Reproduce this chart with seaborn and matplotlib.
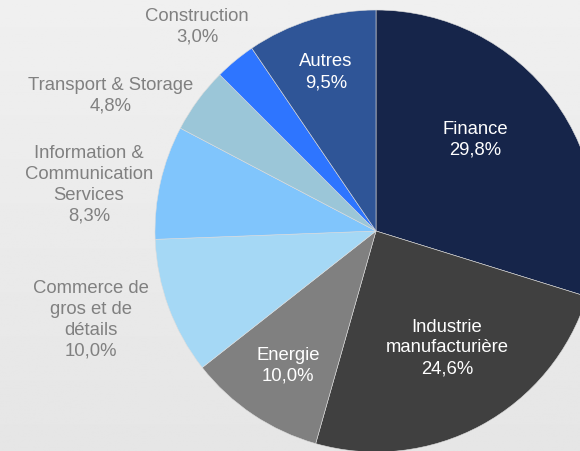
import numpy as np
import matplotlib
matplotlib.use("Agg")
import matplotlib.pyplot as plt
import seaborn as sns

sns.set_style("white")
plt.rcParams["font.family"] = ["Liberation Sans", "DejaVu Sans"]

# Sector breakdown, clockwise from 12 o'clock
sectors = ["Finance", "Industrie\nmanufacturière", "Energie",
           "Commerce de\ngros et de\ndétails", "Information &\nCommunication\nServices",
           "Transport & Storage", "Construction", "Autres"]
shares = [29.8, 24.6, 10.0, 10.0, 8.3, 4.8, 3.0, 9.5]
colors = ["#16254a", "#404040", "#808080", "#a5d8f5", "#80c5fc",
          "#9bc6d8", "#2e75ff", "#2f5597"]
inside = [True, True, True, False, False, False, False, True]
# label anchor points in units of the pie radius
label_xy = [(0.448, 0.412), (0.321, -0.529), (-0.398, -0.611), (-1.290, -0.403),
            (-1.299, 0.208), (-1.199, 0.611), (-0.810, 0.923), (-0.226, 0.719)]

W, H = 580, 451
fig = plt.figure(figsize=(W / 100, H / 100), dpi=100)

# soft grey backdrop
bg = fig.add_axes([0, 0, 1, 1])
grad = np.linspace(0.94, 0.90, 256).reshape(-1, 1)
bg.imshow(np.repeat(grad, 2, axis=1), cmap="gray", vmin=0, vmax=1,
          aspect="auto", extent=[0, 1, 0, 1])
bg.set_axis_off()

cx, cy, r = 376, 231, 221
ax = fig.add_axes([(cx - r) / W, (H - cy - r) / H, 2 * r / W, 2 * r / H])
ax.set_facecolor("none")
wedges, _ = ax.pie(shares, colors=colors, startangle=90, counterclock=False,
                   radius=1.0, wedgeprops=dict(linewidth=0.4, edgecolor="#dddddd"))
ax.set_xlim(-1, 1)
ax.set_ylim(-1, 1)
ax.set_aspect("equal")
ax.set_axis_off()

for name, val, pos, ins in zip(sectors, shares, label_xy, inside):
    txt = f"{name}\n{val:.1f}%".replace(".", ",")
    ax.text(pos[0], pos[1], txt, ha="center", va="center", fontsize=13.3,
            color="white" if ins else "#808080", linespacing=1.3, clip_on=False)

fig.savefig("out.png", dpi=100)
